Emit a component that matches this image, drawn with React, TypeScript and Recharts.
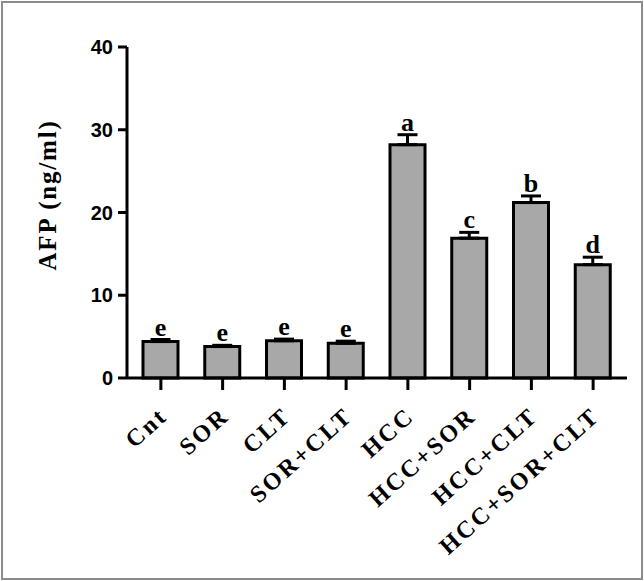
import React from 'react';
import { BarChart, Bar, XAxis, YAxis, ErrorBar, LabelList } from 'recharts';

const groups = ['Cnt', 'SOR', 'CLT', 'SOR+CLT', 'HCC', 'HCC+SOR', 'HCC+CLT', 'HCC+SOR+CLT'];
const afp = [4.4, 3.8, 4.5, 4.2, 28.2, 16.9, 21.2, 13.7];
const sem = [0.25, 0.15, 0.2, 0.25, 1.2, 0.7, 0.8, 0.9];
const letters = ['e', 'e', 'e', 'e', 'a', 'c', 'b', 'd'];
const yTicks = [0, 10, 20, 30, 40];

const data = groups.map((g, i) => ({
  group: g,
  afp: afp[i],
  err: [0, sem[i]],
  semTop: sem[i],
  letter: letters[i],
}));

const XTick = (props: any) => {
  const { x, y, payload } = props;
  const ax = x + 8;
  const ay = y + 28;
  return (
    <text
      x={ax}
      y={ay}
      transform={`rotate(-42, ${ax}, ${ay})`}
      textAnchor="end"
      fontFamily="'Liberation Serif', serif"
      fontWeight="bold"
      fontSize={24}
      letterSpacing={2.6}
      fill="#000"
    >
      {payload.value}
    </text>
  );
};

const YLabel = () => (
  <text
    x={0}
    y={0}
    transform="translate(56, 195) rotate(-90)"
    textAnchor="middle"
    fontFamily="'Liberation Serif', serif"
    fontWeight="bold"
    fontSize={25}
    letterSpacing={1.8}
    fill="#000"
  >
    AFP (ng/ml)
  </text>
);

export default function App() {
  return (
    <div style={{ position: 'absolute', left: 0, top: 0, width: 644, height: 581, background: '#fff' }}>
      <div
        style={{
          position: 'absolute',
          left: 1,
          top: 1,
          width: 642,
          height: 579,
          boxSizing: 'border-box',
          border: '2px solid #8c8c8c',
        }}
      />
      <div style={{ position: 'absolute', left: 0, top: 0 }}>
        <BarChart
          width={644}
          height={581}
          data={data}
          margin={{ top: 47, right: 17, bottom: 0, left: 0 }}
          barSize={35}
        >
          <XAxis
            dataKey="group"
            type="category"
            height={203}
            padding={{ left: 3, right: 3 }}
            axisLine={{ stroke: '#000', strokeWidth: 3 }}
            tickLine={{ stroke: '#000', strokeWidth: 3 }}
            tickSize={12}
            tickMargin={0}
            interval={0}
            tick={<XTick />}
          />
          <YAxis
            type="number"
            domain={[0, 40]}
            ticks={yTicks}
            width={127}
            tickSize={9}
            tickMargin={5}
            axisLine={{ stroke: '#000', strokeWidth: 3 }}
            tickLine={{ stroke: '#000', strokeWidth: 3 }}
            tick={{ fill: '#000', fontSize: 20, fontWeight: 'bold', fontFamily: "'Liberation Sans', Arial, sans-serif" }}
            label={<YLabel />}
          />
          <Bar dataKey="afp" stackId="s" fill="#a8a8a8" stroke="#000" strokeWidth={3} isAnimationActive={false}>
            <ErrorBar dataKey="err" width={10} stroke="#000" strokeWidth={3} direction="y" />
          </Bar>
          <Bar dataKey="semTop" stackId="s" fill="none" stroke="none" isAnimationActive={false}>
            <LabelList
              dataKey="letter"
              position="top"
              offset={4}
              fill="#000"
              fontSize={26}
              fontWeight="bold"
              fontFamily="'Liberation Serif', serif"
            />
          </Bar>
        </BarChart>
      </div>
    </div>
  );
}
